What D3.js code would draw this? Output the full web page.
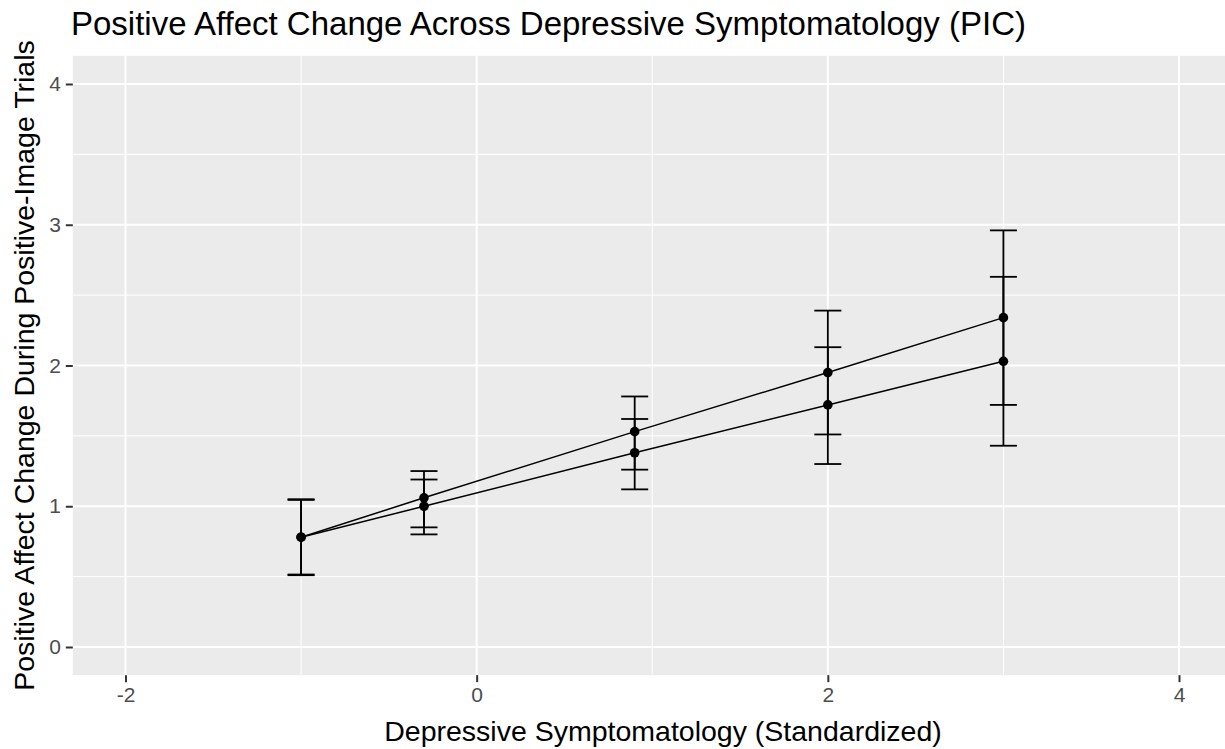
<!DOCTYPE html>
<html>
<head>
<meta charset="utf-8">
<script src="https://cdn.jsdelivr.net/npm/d3@7"></script>
<style>
  html, body { margin: 0; padding: 0; background: #fff; }
  svg { display: block; }
  text { font-family: "Liberation Sans", Arial, sans-serif; }
</style>
</head>
<body>
<svg id="chart" width="1225" height="749"></svg>
<script>
// ---- data ----
const xValues = [-1, -0.3, 0.9, 2, 3];
const seriesAMean  = [0.78, 1.06, 1.53, 1.95, 2.34];
const seriesAUpper = [1.05, 1.25, 1.78, 2.39, 2.96];
const seriesALower = [0.51, 0.85, 1.26, 1.51, 1.72];
const seriesBMean  = [0.78, 1.00, 1.38, 1.72, 2.03];
const seriesBUpper = [1.045, 1.19, 1.62, 2.13, 2.63];
const seriesBLower = [0.515, 0.80, 1.12, 1.30, 1.43];
const xTicks = [-2, 0, 2, 4];
const xMinor = [-1, 1, 3];
const yTicks = [0, 1, 2, 3, 4];
const yMinor = [0.5, 1.5, 2.5, 3.5];
const titleText = "Positive Affect Change Across Depressive Symptomatology (PIC)";
const xTitle = "Depressive Symptomatology (Standardized)";
const yTitle = "Positive Affect Change During Positive-Image Trials";

const series = [
  {mean: seriesAMean, upper: seriesAUpper, lower: seriesALower},
  {mean: seriesBMean, upper: seriesBUpper, lower: seriesBLower}
];

// ---- layout ----
const W = 1225, H = 749;
const unitX = (1179 - 125.5) / 6;
const x = d3.scaleLinear().domain([-2.3, 4.3]).range([125.5 - 0.3 * unitX, 1179 + 0.3 * unitX]);
const unitY = (647 - 84) / 4;
const y = d3.scaleLinear().domain([-0.2, 4.2]).range([647 + 0.2 * unitY, 84 - 0.2 * unitY]);

const svg = d3.select("#chart");
const panelL = x(-2.3), panelR = W, panelT = y(4.2), panelB = y(-0.2);

svg.append("rect").attr("x", panelL).attr("y", panelT)
  .attr("width", panelR - panelL).attr("height", panelB - panelT)
  .attr("fill", "#EBEBEB");

const grid = svg.append("g");
grid.selectAll(".ymin").data(yMinor).enter().append("line")
  .attr("x1", panelL).attr("x2", panelR).attr("y1", d => y(d)).attr("y2", d => y(d))
  .attr("stroke", "#fff").attr("stroke-width", 1);
grid.selectAll(".xmin").data(xMinor).enter().append("line")
  .attr("y1", panelT).attr("y2", panelB).attr("x1", d => x(d)).attr("x2", d => x(d))
  .attr("stroke", "#fff").attr("stroke-width", 1);
grid.selectAll(".ymaj").data(yTicks).enter().append("line")
  .attr("x1", panelL).attr("x2", panelR).attr("y1", d => y(d)).attr("y2", d => y(d))
  .attr("stroke", "#fff").attr("stroke-width", 2);
grid.selectAll(".xmaj").data(xTicks).enter().append("line")
  .attr("y1", panelT).attr("y2", panelB).attr("x1", d => x(d)).attr("x2", d => x(d))
  .attr("stroke", "#fff").attr("stroke-width", 2);

// axes
const xAxis = d3.axisBottom(x).tickValues(xTicks).tickSize(7).tickPadding(5).tickFormat(d3.format("d"));
const gx = svg.append("g").attr("transform", `translate(0,${panelB})`).call(xAxis);
gx.select(".domain").remove();
gx.selectAll(".tick line").attr("stroke", "#333").attr("stroke-width", 2);
gx.selectAll(".tick text").attr("fill", "#4D4D4D").attr("font-size", 21)
  .text(d => d < 0 ? "-" + Math.abs(d) : d);

const yAxis = d3.axisLeft(y).tickValues(yTicks).tickSize(7).tickPadding(5).tickFormat(d3.format("d"));
const gy = svg.append("g").attr("transform", `translate(${panelL},0)`).call(yAxis);
gy.select(".domain").remove();
gy.selectAll(".tick line").attr("stroke", "#333").attr("stroke-width", 2);
gy.selectAll(".tick text").attr("fill", "#4D4D4D").attr("font-size", 21);

// data marks
const line = d3.line().x((d, i) => x(xValues[i])).y(d => y(d));
const marks = svg.append("g");
series.forEach(s => {
  marks.append("path").datum(s.mean).attr("d", line)
    .attr("fill", "none").attr("stroke", "#000").attr("stroke-width", 1.5);
});
const capHalf = 13.5;
series.forEach(s => {
  const g = marks.append("g");
  xValues.forEach((xv, i) => {
    g.append("line").attr("x1", x(xv)).attr("x2", x(xv))
      .attr("y1", y(s.upper[i])).attr("y2", y(s.lower[i]))
      .attr("stroke", "#000").attr("stroke-width", 1.8);
    [s.upper[i], s.lower[i]].forEach(v => {
      g.append("line").attr("x1", x(xv) - capHalf).attr("x2", x(xv) + capHalf)
        .attr("y1", y(v)).attr("y2", y(v))
        .attr("stroke", "#000").attr("stroke-width", 1.8);
    });
  });
});
series.forEach(s => {
  marks.append("g").selectAll("circle").data(s.mean).enter().append("circle")
    .attr("cx", (d, i) => x(xValues[i])).attr("cy", d => y(d)).attr("r", 4.8)
    .attr("fill", "#000");
});

// titles
svg.append("text").attr("x", 71).attr("y", 35).attr("font-size", 33)
  .attr("fill", "#000").text(titleText);
svg.append("text").attr("x", 663).attr("y", 741)
  .attr("text-anchor", "middle").attr("font-size", 28.5).attr("fill", "#000").text(xTitle);
svg.append("text").attr("transform", `translate(34,${(panelT + panelB) / 2}) rotate(-90)`)
  .attr("text-anchor", "middle").attr("font-size", 28.5).attr("fill", "#000").text(yTitle);
</script>
</body>
</html>
